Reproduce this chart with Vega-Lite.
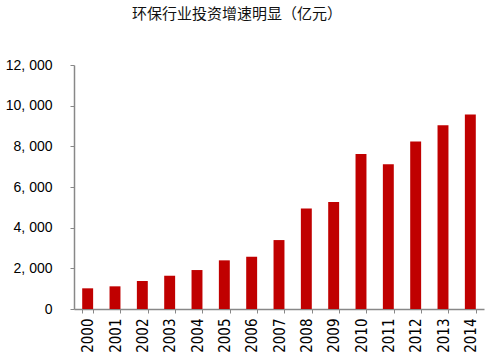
{
  "$schema": "https://vega.github.io/schema/vega-lite/v6.json",
  "width": 410,
  "height": 244,
  "autosize": {"type": "none"},
  "padding": {"left": 74, "top": 65, "right": 7, "bottom": 54},
  "background": "white",
  "title": {
    "text": "环保行业投资增速明显（亿元）",
    "font": "Noto Sans CJK SC",
    "fontSize": 15,
    "fontWeight": "normal",
    "color": "#111111",
    "anchor": "middle",
    "dx": -42,
    "offset": 36
  },
  "data": {
    "values": [
      {"year": "2000", "value": 1017},
      {"year": "2001", "value": 1115},
      {"year": "2002", "value": 1376},
      {"year": "2003", "value": 1636},
      {"year": "2004", "value": 1916},
      {"year": "2005", "value": 2393},
      {"year": "2006", "value": 2570},
      {"year": "2007", "value": 3390},
      {"year": "2008", "value": 4948},
      {"year": "2009", "value": 5258},
      {"year": "2010", "value": 7617},
      {"year": "2011", "value": 7125},
      {"year": "2012", "value": 8240},
      {"year": "2013", "value": 9042},
      {"year": "2014", "value": 9567}
    ]
  },
  "mark": {"type": "bar", "color": "#C00000"},
  "encoding": {
    "x": {
      "field": "year",
      "type": "ordinal",
      "scale": {"paddingInner": 0.6, "paddingOuter": 0.3},
      "axis": {
        "title": null,
        "labelAngle": -90,
        "labelFont": "Liberation Sans Narrow, DejaVu Sans Condensed, Liberation Sans",
        "labelFontSize": 15,
        "labelColor": "#000000",
        "labelPadding": 5,
        "tickBand": "extent",
        "tickSize": 4,
        "tickColor": "#888888",
        "domainColor": "#888888",
        "domainWidth": 1.5,
        "grid": false
      }
    },
    "y": {
      "field": "value",
      "type": "quantitative",
      "scale": {"domain": [0, 12000]},
      "axis": {
        "title": null,
        "values": [0, 2000, 4000, 6000, 8000, 10000, 12000],
        "labelExpr": "replace(format(datum.value, ','), ',', ', ')",
        "labelFont": "Liberation Sans",
        "labelFontSize": 14,
        "labelColor": "#000000",
        "labelPadding": 18,
        "tickSize": 4,
        "tickColor": "#888888",
        "domainColor": "#888888",
        "domainWidth": 1.5,
        "grid": false
      }
    }
  },
  "config": {"view": {"stroke": null}}
}
